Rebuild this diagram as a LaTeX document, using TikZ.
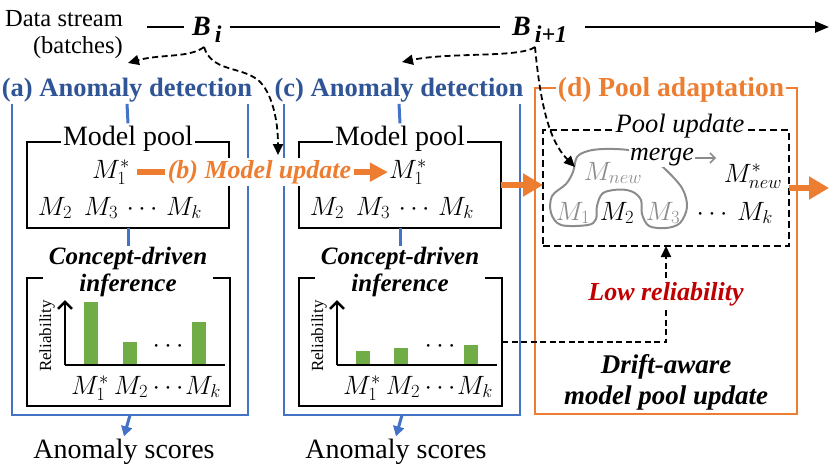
\RequirePackage{fix-cm}
\documentclass[tikz,border=0pt]{standalone}
\usepackage{fontspec}
\setmainfont{Liberation Serif}
\usetikzlibrary{arrows.meta}
\definecolor{lblue}{HTML}{4472C4}
\definecolor{tblue}{HTML}{2F5597}
\definecolor{orng}{HTML}{ED7D31}
\definecolor{grn}{HTML}{70AD47}
\definecolor{dred}{HTML}{C00000}
\definecolor{gry}{HTML}{8C8C8C}
\newcommand{\fs}[1]{\fontsize{#1}{#1}\selectfont}
\tikzset{
  panelbox/.style={draw=lblue, line width=2pt, inner sep=0pt, outer sep=0pt, anchor=north west},
  poolbox/.style={draw=black, line width=2.5pt, inner sep=0pt, outer sep=0pt, anchor=north west},
  ttl/.style={fill=white, inner sep=2pt, anchor=base, font=\fs{26.5}\bfseries},
  plabel/.style={fill=white, inner sep=2pt, anchor=base, font=\fs{28}},
  clabel/.style={fill=white, inner xsep=6pt, inner ysep=1pt, align=center, font=\fontsize{25}{27}\selectfont\bfseries\itshape},
  mth/.style={inner sep=1pt, anchor=base, font=\fs{26.5}},
  blink/.style={draw=lblue, line width=3pt},
  barrow/.style={draw=lblue, line width=3pt, -{Triangle[length=10pt,width=11pt]}},
  dasharrow/.style={draw=black, line width=1.8pt, dash pattern=on 6pt off 3.5pt, -{Triangle[length=11pt,width=10pt]}},
  oarrow/.style={draw=orng, line width=6pt, -{Triangle[length=20pt,width=22pt]}},
  axisx/.style={line width=1.5pt},
  axisy/.style={line width=2.5pt, -{Straight Barb[length=7pt,width=14pt]}},
  scores/.style={anchor=base, inner sep=2pt, font=\fs{28}},
  rel/.style={rotate=90, inner sep=0pt, font=\fs{17}},
}
\begin{document}
\begin{tikzpicture}[x=1pt,y=-1pt]
\useasboundingbox (0,0) rectangle (829,466);

% ---------- top timeline ----------
\node[align=right, anchor=north east, inner sep=0pt, font=\fontsize{24.5}{27}\selectfont] (ds) at (123,10) {Data stream\\(batches)};
\node[anchor=base west, inner xsep=8pt, font=\fs{28}\bfseries\itshape] (Bi) at (184,35)
  {B\raisebox{-7pt}{\fs{24}\bfseries\itshape\,i}};
\node[anchor=base west, inner xsep=12pt, font=\fs{28}\bfseries\itshape] (Bj) at (500,35)
  {B\raisebox{-7pt}{\fs{24}\bfseries{\itshape\,i}+1}};
\coordinate (tl0) at (147,27);
\coordinate (tlend) at (829,27);
\draw[line width=2.5pt] (tl0) -- (tl0 -| Bi.west);
\draw[line width=2.5pt] (tl0 -| Bi.east) -- (tl0 -| Bj.west);
\draw[line width=2.5pt, -{Triangle[length=14pt,width=11pt]}, shorten <=6pt] (tl0 -| Bj.east) -- (tlend);

\coordinate (bi0) at (204,47);
\coordinate (bj0) at (535,47);
\coordinate (ta0) at (128,63);
\coordinate (tc0) at (402,62);
\coordinate (mc0) at (278,155);
\coordinate (pn0) at (575,167);

% ---------- panel (a) ----------
\node[panelbox, minimum width=236pt, minimum height=330pt] (pa) at (12,85) {};
\node[ttl, text=tblue] (ta) at (127,96) {(a) Anomaly detection};
\node[poolbox, minimum width=202pt, minimum height=86pt] (mpa) at (27,142) {};
\node[plabel] (mpla) at (128,145) {Model pool};
\draw[blink] (ta.south) -- (mpla.north);
\node[mth] (m1a) at (111,178) {$M_1^*$};
\node[mth] (m2a) at (55,215) {$M_2$};
\node[mth] (m3a) at (101,215) {$M_3$};
\node[mth] (dda) at (142,215) {$\cdots$};
\node[mth] (mka) at (184,215) {$M_k$};
\node[poolbox, minimum width=203pt, minimum height=128pt] (cba) at (27,278) {};
\node[clabel] (cla) at (128,272) {Concept-driven\\inference};
\draw[blink] (mpa.south) -- (cla.north);
\coordinate (oa) at (65,365); \coordinate (ya) at (65,300); \coordinate (xa) at (225,365);
\fill[grn] (84,302) rectangle (98,364);
\fill[grn] (123,342) rectangle (137,364);
\fill[grn] (192,322) rectangle (206,364);
\draw[axisx] (oa) -- (xa);
\draw[axisy] (oa) -- (ya);
\node[mth] (cda) at (168,352) {$\cdots$};
\node[rel] (rla) at (47,336) {Reliability};
\node[mth] (l1a) at (90,394) {$M_1^*$};
\node[mth] (l2a) at (131,394) {$M_2$};
\node[mth] (l3a) at (168,394) {$\cdots$};
\node[mth] (lka) at (203,394) {$M_k$};
\node[scores] (sa) at (124,458) {Anomaly scores};
\draw[barrow] (pa.south) -- (sa.north);

% ---------- panel (c) ----------
\node[panelbox, minimum width=236pt, minimum height=330pt] (pc) at (284,85) {};
\node[ttl, text=tblue] (tc) at (399,96) {(c) Anomaly detection};
\node[poolbox, minimum width=202pt, minimum height=86pt] (mpc) at (299,142) {};
\node[plabel] (mplc) at (400,145) {Model pool};
\draw[blink] (tc.south) -- (mplc.north);
\node[mth] (m1c) at (408,178) {$M_1^*$};
\node[mth] (m2c) at (327,215) {$M_2$};
\node[mth] (m3c) at (373,215) {$M_3$};
\node[mth] (ddc) at (414,215) {$\cdots$};
\node[mth] (mkc) at (456,215) {$M_k$};
\node[poolbox, minimum width=203pt, minimum height=128pt] (cbc) at (299,278) {};
\node[clabel] (clc) at (400,272) {Concept-driven\\inference};
\draw[blink] (mpc.south) -- (clc.north);
\coordinate (oc) at (337,365); \coordinate (yc) at (337,300); \coordinate (xc) at (497,365);
\fill[grn] (356,351) rectangle (370,364);
\fill[grn] (394,348) rectangle (408,364);
\fill[grn] (464,345) rectangle (478,364);
\draw[axisx] (oc) -- (xc);
\draw[axisy] (oc) -- (yc);
\node[mth] (cdc) at (440,352) {$\cdots$};
\node[rel] (rlc) at (319,336) {Reliability};
\node[mth] (l1c) at (362,394) {$M_1^*$};
\node[mth] (l2c) at (403,394) {$M_2$};
\node[mth] (l3c) at (440,394) {$\cdots$};
\node[mth] (lkc) at (475,394) {$M_k$};
\node[scores] (sc) at (396,458) {Anomaly scores};
\draw[barrow] (pc.south) -- (sc.north);

% ---------- (b) model update ----------
\draw[draw=orng, line width=6pt, -{Triangle[length=18pt,width=18pt]}, shorten <=6pt]
  (m1a.east) -- (m1c.west)
  node[midway, fill=white, inner xsep=3pt, inner ysep=2pt, text=orng, font=\fs{26}\bfseries\itshape] (bl) {(b) Model update};

% ---------- panel (d) ----------
\node[draw=orng, line width=2.5pt, inner sep=0pt, outer sep=0pt, anchor=north west, minimum width=262pt, minimum height=326pt] (pd) at (535,88) {};
\node[ttl, text=orng, font=\fs{27.5}\bfseries] (td) at (671,96) {(d) Pool adaptation};
\node[draw=black, line width=2pt, dash pattern=on 7pt off 4pt, inner sep=0pt, outer sep=0pt, anchor=north west, minimum width=246pt, minimum height=116pt] (pu) at (543,130) {};
\node[fill=white, inner sep=2pt, anchor=base, font=\fs{26.5}\itshape] (pul) at (680,132) {Pool update};
\draw[gry, line width=2pt] plot[smooth cycle, tension=0.55] coordinates {
 (577,157) (588,151) (604,149) (628,150) (648,156) (664,168) (682,188) (687,207) (680,223)
 (666,228) (649,226) (642,214) (641,200) (633,192) (620,189.5) (603,193) (597,206) (596,219)
 (588,225) (561,225) (551,213) (552,196) (566,184) (573,172)};
\node[fill=white, inner sep=1pt, anchor=base, font=\fs{26}\itshape] (mg) at (662,160) {merge};
\coordinate (mgend) at (716,158);
\draw[gry, line width=1.5pt, -{Straight Barb[length=5pt,width=10pt]}] (mg.east |- mgend) -- (mgend);
\node[mth, text=gry] (mnew) at (613,180) {$M_{new}$};
\node[mth] (mnews) at (753,182) {$M_{new}^*$};
\node[mth, text=gry] (pm1) at (573,220) {$M_1$};
\node[mth] (pm2) at (617,220) {$M_2$};
\node[mth, text=gry] (pm3) at (663,220) {$M_3$};
\node[mth] (pdd) at (712,220) {$\cdots$};
\node[mth] (pmk) at (755,220) {$M_k$};
\node[align=center, font=\fontsize{27}{31}\selectfont\bfseries\itshape] (da) at (666,382) {Drift-aware\\model pool update};

% orange flow arrows
\coordinate (outd) at (829,188);
\draw[oarrow] (mpc.east) -- (mpc.east -| pu.west);
\draw[oarrow] (pu.east |- outd) -- (outd);

% low reliability feedback
\draw[dasharrow] (cbc.east) -| (pu.south)
  node[pos=0.75, fill=white, inner sep=3pt, text=dred, font=\fs{26}\bfseries\itshape] (lr) {Low reliability};

% batch dashed arrows
\draw[dasharrow] (bi0) .. controls (190,58) and (160,54) .. (ta0);
\draw[dasharrow] (bi0) .. controls (212,72) and (240,66) .. (258,80) .. controls (272,92) and (278,120) .. (mc0);
\draw[dasharrow] (bj0) .. controls (520,58) and (450,52) .. (tc0);
\draw[dasharrow] (bj0) .. controls (540,100) and (548,140) .. (pn0);
\end{tikzpicture}
\end{document}
